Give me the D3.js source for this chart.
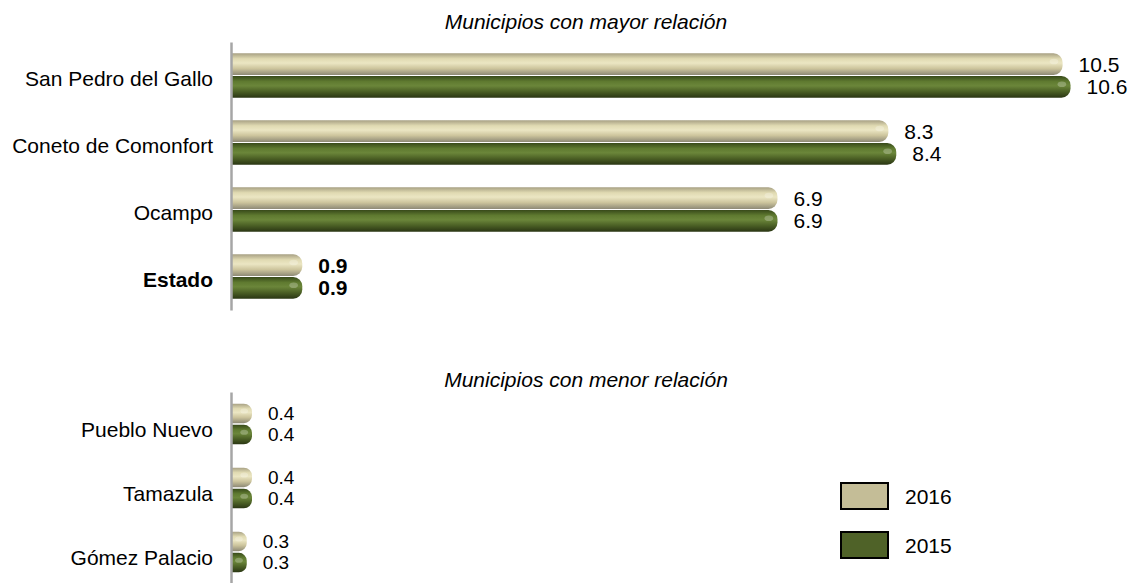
<!DOCTYPE html>
<html>
<head>
<meta charset="utf-8">
<script src="https://cdn.jsdelivr.net/npm/d3@7"></script>
<style>
  body { margin: 0; background: #ffffff; }
  svg { font-family: "Liberation Sans", Arial, sans-serif; }
</style>
</head>
<body>
<div id="chart"></div>
<script>
// DATA
const SERIES = ["2016", "2015"];
const TOP_CATEGORIES = ["San Pedro del Gallo", "Coneto de Comonfort", "Ocampo", "Estado"];
const TOP_2016 = [10.5, 8.3, 6.9, 0.9];
const TOP_2015 = [10.6, 8.4, 6.9, 0.9];
const BOTTOM_CATEGORIES = ["Pueblo Nuevo", "Tamazula", "Gómez Palacio"];
const BOTTOM_2016 = [0.4, 0.4, 0.3];
const BOTTOM_2015 = [0.4, 0.4, 0.3];
const TITLES = ["Municipios con mayor relación", "Municipios con menor relación"];

// FRAME
const FRAME_WIDTH = 1136;
const FRAME_HEIGHT = 583;
const FONT_SIZE = 21;

const FRAME = d3.select("#chart")
  .append("svg")
    .attr("width", FRAME_WIDTH)
    .attr("height", FRAME_HEIGHT);

// gradients that give the bars their cylinder look
const defs = FRAME.append("defs");
const GRADS = {
  "2016": [["0%", "#a8a184"], ["25%", "#e0dab2"], ["45%", "#ebe6c3"], ["70%", "#cdc59d"], ["100%", "#8e8a76"]],
  "2015": [["0%", "#384a1a"], ["25%", "#5f7a30"], ["45%", "#6b863a"], ["70%", "#4d6226"], ["100%", "#2a3613"]]
};
const LEGEND_FILL = {"2016": "#c4bd97", "2015": "#4f6228"};

SERIES.forEach((s) => {
  const g = defs.append("linearGradient")
      .attr("id", "grad" + s)
      .attr("x1", 0).attr("y1", 0).attr("x2", 0).attr("y2", 1);
  GRADS[s].forEach((st) => {
    g.append("stop").attr("offset", st[0]).attr("stop-color", st[1]);
  });
});

// bar path with a rounded right end
function barPath(x0, x1, y, h) {
  const r = Math.min(h * 0.42, (x1 - x0) / 2);
  return "M" + x0 + "," + y +
         "H" + (x1 - r) +
         "A" + r + "," + r + " 0 0 1 " + x1 + "," + (y + r) +
         "V" + (y + h - r) +
         "A" + r + "," + r + " 0 0 1 " + (x1 - r) + "," + (y + h) +
         "H" + x0 + "Z";
}

function drawPanel(cats, v2016, v2015, opts) {
  const rows = [];
  cats.forEach((c, i) => {
    rows.push({cat: c, series: "2016", value: v2016[i]});
    rows.push({cat: c, series: "2015", value: v2015[i]});
  });

  const X_SCALE = d3.scaleLinear()
      .domain([0, 1])
      .range([opts.x0, opts.x0 + opts.unit]);

  const Y_SCALE = d3.scaleBand()
      .domain(cats)
      .range([opts.y0, opts.y1]);

  const Y_INNER = d3.scaleBand()
      .domain(SERIES)
      .range([0, Y_SCALE.bandwidth()])
      .paddingInner(opts.padIn)
      .paddingOuter(opts.padOut);

  const h = Y_INNER.bandwidth();

  // title
  FRAME.append("text")
      .attr("x", 586)
      .attr("y", opts.titleY)
      .attr("text-anchor", "middle")
      .attr("dy", "0.35em")
      .attr("font-style", "italic")
      .attr("font-size", FONT_SIZE + "px")
      .text(opts.title);

  // bars
  const bars = FRAME.append("g").selectAll("g.bar")
      .data(rows)
      .enter()
      .append("g")
        .attr("class", "bar");

  bars.append("path")
      .attr("d", (d) => barPath(X_SCALE(0), X_SCALE(d.value),
                                Y_SCALE(d.cat) + Y_INNER(d.series), h))
      .attr("fill", (d) => "url(#grad" + d.series + ")");

  // soft shine near the end of each bar
  bars.append("ellipse")
      .attr("cx", (d) => X_SCALE(d.value) - h * 0.4)
      .attr("cy", (d) => Y_SCALE(d.cat) + Y_INNER(d.series) + h * 0.38)
      .attr("rx", h * 0.2)
      .attr("ry", h * 0.13)
      .attr("fill", "#ffffff")
      .attr("opacity", 0.25);

  // value labels
  FRAME.append("g").selectAll("text")
      .data(rows)
      .enter()
      .append("text")
        .attr("x", (d) => X_SCALE(d.value) + 16)
        .attr("y", (d) => Y_SCALE(d.cat) + Y_INNER(d.series) + h / 2)
        .attr("dy", "0.36em")
        .attr("font-size", opts.valueSize + "px")
        .attr("font-weight", (d) => d.cat === "Estado" ? "bold" : "normal")
        .text((d) => d3.format(".1f")(d.value));

  // category axis
  const axis = FRAME.append("g")
      .attr("transform", "translate(" + opts.x0 + ",0)")
      .call(d3.axisLeft(Y_SCALE).tickSize(0).tickPadding(18));

  axis.select(".domain")
      .attr("stroke", "#a6a6a6")
      .attr("stroke-width", 2.5);

  axis.selectAll("text")
      .attr("font-size", FONT_SIZE + "px")
      .attr("font-family", "'Liberation Sans', Arial, sans-serif")
      .attr("fill", "#000")
      .attr("dy", opts.labelDy)
      .attr("font-weight", (d) => d === "Estado" ? "bold" : "normal");
}

drawPanel(TOP_CATEGORIES, TOP_2016, TOP_2015, {
  x0: 231, unit: 79.2, y0: 42, y1: 310,
  padIn: 0.05, padOut: 0.5, titleY: 22, title: TITLES[0], labelDy: "0.5em",
  valueSize: FONT_SIZE
});

drawPanel(BOTTOM_CATEGORIES, BOTTOM_2016, BOTTOM_2015, {
  x0: 231, unit: 52.5, y0: 392, y1: 584,
  padIn: 0.08, padOut: 0.55, titleY: 380, title: TITLES[1], labelDy: "0.62em",
  valueSize: 19
});

// LEGEND
const legend = FRAME.append("g").selectAll("g")
    .data(SERIES)
    .enter()
    .append("g")
      .attr("transform", (d, i) => "translate(841," + (483 + i * 49) + ")");

legend.append("rect")
    .attr("width", 47)
    .attr("height", 26)
    .attr("fill", (d) => LEGEND_FILL[d])
    .attr("stroke", "#000")
    .attr("stroke-width", 2);

legend.append("text")
    .attr("x", 64)
    .attr("y", 13)
    .attr("dy", "0.36em")
    .attr("font-size", FONT_SIZE + "px")
    .text((d) => d);
</script>
</body>
</html>
